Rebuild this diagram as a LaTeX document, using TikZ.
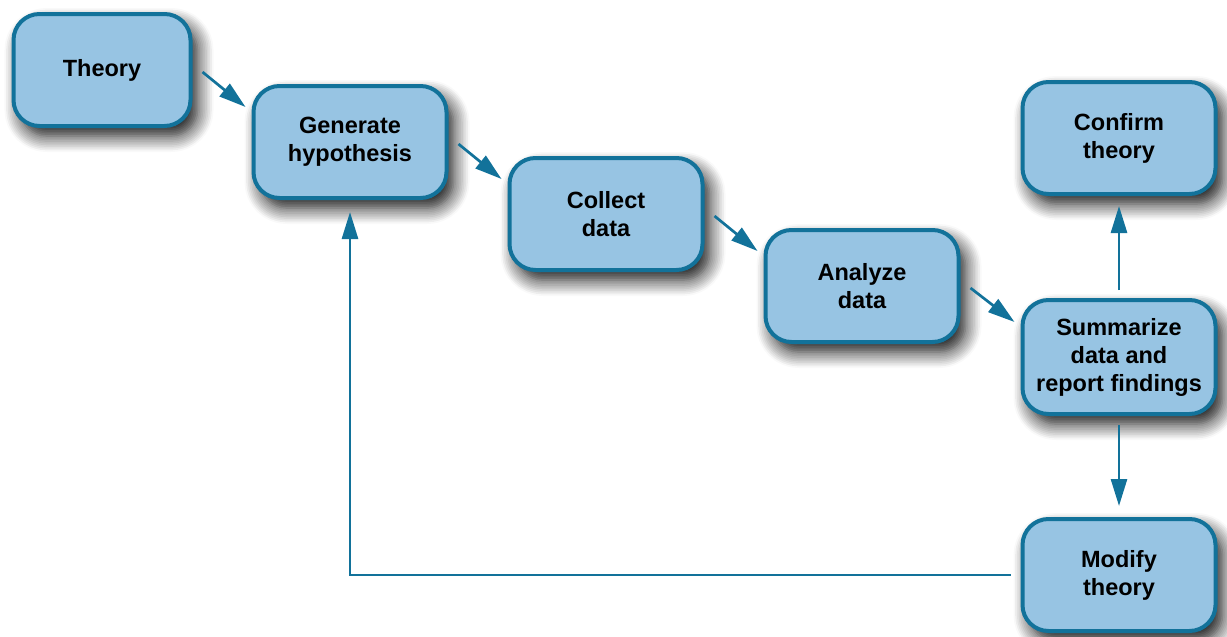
\documentclass[tikz,border=0pt]{standalone}
\usepackage{fontspec}
\setmainfont{Liberation Sans}
\usetikzlibrary{arrows.meta,shadows.blur}
\definecolor{boxfill}{HTML}{97C4E3}
\definecolor{boxline}{HTML}{12729A}
\tikzset{
  stage/.style={draw=boxline, fill=boxfill, line width=4pt, rounded corners=26pt,
    minimum width=193pt, minimum height=112pt, align=center,
    font=\bfseries\fontsize{23.5}{28}\selectfont,
    blur shadow={shadow xshift=7pt, shadow yshift=-10pt, shadow blur radius=16pt,
      shadow blur steps=10, shadow opacity=95}},
  flow/.style={draw=boxline, line width=2.7pt, -{Triangle[length=27pt,width=16pt]}},
}

\begin{document}
\begin{tikzpicture}[x=1pt,y=-1pt]
  \useasboundingbox (0,0) rectangle (1227,637);

  \node[stage, minimum width=177pt] (theory) at (102,70) {Theory};
  \node[stage] (gen) at (350,142) {Generate\\hypothesis};
  \node[stage] (collect) at (606,214) {Collect\\data};
  \node[stage] (analyze) at (862,286) {Analyze\\data};
  \node[stage] (confirm) at (1119,138) {Confirm\\theory};
  \node[stage, minimum height=114pt] (summ) at (1119,357) {Summarize\\data and\\report findings};
  \node[stage] (modify) at (1119,575) {Modify\\theory};

  \foreach \a/\b in {theory/gen, gen/collect, collect/analyze, analyze/summ}{
    \draw[flow] ([shift={(10,2)}]\a.east) -- ([shift={(-6,-35)}]\b.west);
  }

  \draw[flow, shorten <=8pt, shorten >=10pt] (summ.north) -- (confirm.south);
  \draw[flow, shorten <=9pt, shorten >=11pt] (summ.south) -- (modify.north);
  \draw[flow, shorten <=10pt, shorten >=12pt] (modify.west) -| (gen.south);
\end{tikzpicture}
\end{document}
